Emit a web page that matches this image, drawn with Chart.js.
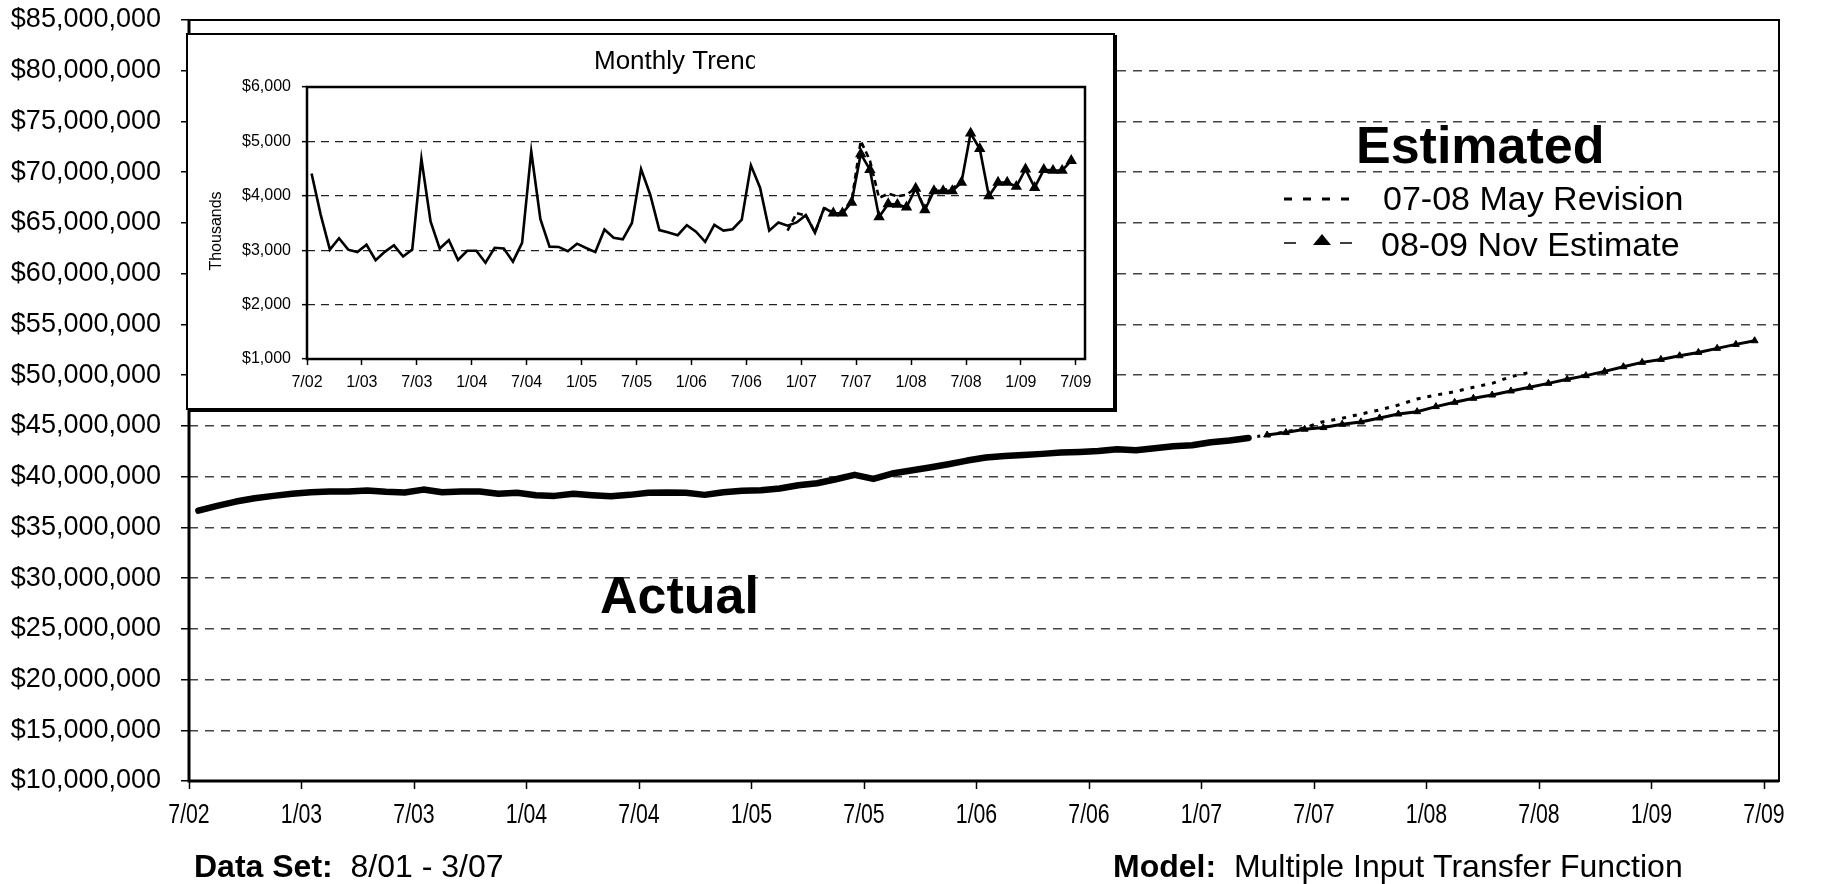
<!DOCTYPE html>
<html lang="en">
<head>
<meta charset="UTF-8">
<title>General Fund Revenue - 12 Month Total</title>
<script src="https://cdn.jsdelivr.net/npm/chart.js@4"></script>
<style>
  body {
    margin: 0;
    width: 1822px;
    height: 884px;
    overflow: hidden;
    background: #fff;
    position: relative;
  }
  #mainChart { position: absolute; left: 0; top: 0; }
  .inset {
    position: absolute;
    left: 186px;
    top: 33px;
    width: 929px;
    height: 377px;
    box-sizing: border-box;
    border: 2px solid #000;
    box-shadow: 2px 2px 0 #000;
    background: #fff;
  }
  .inset canvas { display: block; }
</style>
</head>
<body>
<canvas id="mainChart" width="1822" height="884"></canvas>
<div class="inset"><canvas id="insetChart" width="925" height="373"></canvas></div>

<script>
// month 0 = July 2002; each value is plotted in the middle of its month
const monthTicks = [0, 6, 12, 18, 24, 30, 36, 42, 48, 54, 60, 66, 72, 78, 84];
const tickLabels = ['7/02', '1/03', '7/03', '1/04', '7/04', '1/05', '7/05', '1/06',
                    '7/06', '1/07', '7/07', '1/08', '7/08', '1/09', '7/09'];

// 12-month running totals, $ millions (7/02 - 3/07)
const actualTotals = [
  36.65, 37.12, 37.54, 37.87, 38.10, 38.30, 38.46, 38.53, 38.53, 38.63, 38.50, 38.43,
  38.72, 38.46, 38.53, 38.53, 38.30, 38.40, 38.17, 38.10, 38.30, 38.17, 38.07, 38.20,
  38.40, 38.43, 38.40, 38.20, 38.46, 38.60, 38.66, 38.82, 39.15, 39.35, 39.74, 40.17,
  39.77, 40.30, 40.60, 40.90, 41.22, 41.58, 41.88, 42.04, 42.14, 42.24, 42.37, 42.43,
  42.53, 42.70, 42.60, 42.80, 42.99, 43.09, 43.38, 43.55, 43.81
];
// 07-08 May Revision, 4/07 - 6/08
const mayStart = 57;
const mayTotals = [
  44.10, 44.40, 44.80, 45.42, 45.75, 46.17, 46.57, 47.06, 47.65, 48.04, 48.37, 48.80,
  49.19, 49.85, 50.27
];
// 08-09 Nov Estimate, joined to 3/07 then 4/07 - 6/09
const novStart = 56;
const novTotals = [
  43.81, 44.10, 44.34, 44.67, 44.83, 45.16, 45.39, 45.78, 46.17, 46.40, 46.90, 47.32,
  47.72, 48.04, 48.44, 48.80, 49.19, 49.59, 49.95, 50.37, 50.83, 51.26, 51.55, 51.91,
  52.24, 52.64, 53.03, 53.39
];

// monthly amounts, $ thousands
const actualMonthly = [
  4410, 3650, 3010, 3220, 3010, 2965, 3100, 2815, 2970, 3090, 2885, 3010,
  4680, 3530, 3030, 3185, 2820, 2990, 2990, 2770, 3045, 3030, 2790, 3135,
  4815, 3570, 3065, 3060, 2980, 3120, 3040, 2965, 3380, 3230, 3200, 3500,
  4490, 4020, 3370, 3325, 3275, 3460, 3340, 3155, 3465, 3360, 3385, 3560,
  4560, 4150, 3360, 3510, 3450, 3510, 3645, 3320, 3780
];
const mayMonthlyStart = 52;
const mayMonthly = [
  3360, 3680, 3640, 3330, 3770, 3700, 3700, 3900, 5010, 4650, 3960, 4040,
  3990, 4020, 4140, 3760, 4120, 4110, 4130, 4280
];
const novMonthly = [
  3780, 3680, 3680, 3880, 4770, 4480, 3610, 3850, 3840, 3790, 4135, 3740,
  4090, 4090, 4090, 4245, 5150, 4865, 3995, 4245, 4245, 4170, 4490, 4150,
  4480, 4465, 4465, 4645
];

const FONT = '"Liberation Sans", Arial, Helvetica, sans-serif';
Chart.defaults.font.family = FONT;
Chart.defaults.color = '#000';

const pts = (vals, start) => vals.map((v, i) => ({ x: start + i + 0.5, y: v }));
const hideFirst = c => (c.dataIndex === 0 ? 0 : 4);
const monthAxisTicks = s => { s.ticks = monthTicks.map(v => ({ value: v })); };
const noEndPadding = s => { s.paddingTop = 0; s.paddingBottom = 0; };

// month labels of the main chart are set in a narrow face
const drawMonthLabels = (chart, size, squeeze, y) => {
  const { ctx, scales: { x } } = chart;
  ctx.save();
  ctx.fillStyle = '#000';
  ctx.font = size + 'px ' + FONT;
  ctx.textAlign = 'center';
  ctx.textBaseline = 'middle';
  monthTicks.forEach((m, i) => {
    ctx.save();
    ctx.translate(x.getPixelForValue(m), y);
    ctx.scale(squeeze, 1);
    ctx.fillText(tickLabels[i], 0, 0);
    ctx.restore();
  });
  ctx.restore();
};

// frame, big captions, legend and footer of the main chart
const mainDecor = {
  id: 'mainDecor',
  afterDraw(chart) {
    const { ctx, chartArea: a } = chart;
    ctx.save();
    ctx.strokeStyle = '#000';
    ctx.lineWidth = 2;
    ctx.strokeRect(a.left, a.top, a.right - a.left, a.bottom - a.top);
    ctx.lineWidth = 3;
    ctx.beginPath();
    ctx.moveTo(a.left, a.top);
    ctx.lineTo(a.left, a.bottom);
    ctx.lineTo(a.right, a.bottom);
    ctx.stroke();

    drawMonthLabels(chart, 28, 0.76, a.bottom + 34);

    ctx.fillStyle = '#000';
    ctx.textBaseline = 'alphabetic';
    ctx.textAlign = 'left';
    ctx.font = 'bold 52px ' + FONT;
    ctx.fillText('Actual', 600, 613);
    ctx.fillText('Estimated', 1356, 163);

    ctx.font = '34px ' + FONT;
    ctx.fillText('07-08 May Revision', 1383, 210);
    ctx.fillText('08-09 Nov Estimate', 1381, 256);

    // legend keys
    ctx.lineWidth = 3;
    ctx.setLineDash([8, 11]);
    ctx.beginPath();
    ctx.moveTo(1284, 199);
    ctx.lineTo(1354, 199);
    ctx.stroke();
    ctx.setLineDash([]);
    ctx.lineWidth = 1.5;
    ctx.beginPath();
    ctx.moveTo(1284, 243); ctx.lineTo(1296, 243);
    ctx.moveTo(1340, 243); ctx.lineTo(1352, 243);
    ctx.stroke();
    ctx.beginPath();
    ctx.moveTo(1313, 245);
    ctx.lineTo(1322, 234);
    ctx.lineTo(1331, 245);
    ctx.closePath();
    ctx.fill();

    // footer
    const footer = (x, bold, rest) => {
      ctx.font = 'bold 32px ' + FONT;
      ctx.fillText(bold, x, 877);
      const w = ctx.measureText(bold + '  ').width;
      ctx.font = '32px ' + FONT;
      ctx.fillText(rest, x + w, 877);
    };
    footer(194, 'Data Set:', '8/01 - 3/07');
    footer(1113, 'Model:', 'Multiple Input Transfer Function');
    ctx.restore();
  }
};

new Chart(document.getElementById('mainChart'), {
  type: 'line',
  data: {
    datasets: [
      { label: 'Actual', data: pts(actualTotals, 0), borderColor: '#000', borderWidth: 6.5,
        borderCapStyle: 'round', borderJoinStyle: 'round', pointRadius: 0 },
      { label: '07-08 May Revision', data: pts(mayTotals, mayStart), borderColor: '#000',
        borderWidth: 3, borderDash: [4, 7], pointRadius: 0 },
      { label: '08-09 Nov Estimate', data: pts(novTotals, novStart), borderColor: '#000',
        borderWidth: 3, pointStyle: 'triangle', pointRadius: hideFirst,
        pointBackgroundColor: '#000', pointBorderColor: '#000', pointBorderWidth: 1,
        segment: { borderDash: c => (c.p0DataIndex === 0 ? [3, 6] : undefined) } }
    ]
  },
  options: {
    responsive: false,
    animation: false,
    devicePixelRatio: 1,
    layout: { padding: { left: 0, top: 20, right: 43, bottom: 0 } },
    plugins: { legend: { display: false }, tooltip: { enabled: false } },
    scales: {
      x: {
        type: 'linear', min: 0, max: 84.8,
        afterBuildTicks: monthAxisTicks,
        afterFit: s => { s.height = 103; },
        grid: { drawOnChartArea: false, tickLength: 8, tickColor: '#000', tickWidth: 1.5 },
        border: { display: false },
        ticks: { display: false }
      },
      y: {
        min: 10, max: 85,
        afterFit: s => { s.width = 189; noEndPadding(s); },
        grid: { color: '#444', lineWidth: 1.5, tickLength: 8, tickColor: '#000', tickWidth: 1.5 },
        border: { display: false, dash: [9, 7] },
        ticks: { stepSize: 5, font: { size: 27 }, padding: 20,
                 callback: v => '$' + (v * 1e6).toLocaleString('en-US') }
      }
    }
  },
  plugins: [mainDecor]
});

// title, axis caption and plot frame of the monthly panel
const insetDecor = {
  id: 'insetDecor',
  afterDraw(chart) {
    const { ctx, chartArea: a } = chart;
    ctx.save();
    ctx.strokeStyle = '#000';
    ctx.lineWidth = 2.5;
    ctx.strokeRect(a.left, a.top, a.right - a.left, a.bottom - a.top);

    // the title box is narrower than its text, so the last letter is cut
    ctx.fillStyle = '#000';
    ctx.save();
    ctx.beginPath();
    ctx.rect(0, 0, 567, 60);
    ctx.clip();
    ctx.font = '26px ' + FONT;
    ctx.textAlign = 'left';
    ctx.textBaseline = 'middle';
    ctx.fillText('Monthly Trend', 406, 27);
    ctx.restore();

    ctx.translate(29, 196);
    ctx.rotate(-Math.PI / 2);
    ctx.font = '16px ' + FONT;
    ctx.textAlign = 'center';
    ctx.textBaseline = 'middle';
    ctx.fillText('Thousands', 0, 0);
    ctx.restore();
  }
};

new Chart(document.getElementById('insetChart'), {
  type: 'line',
  data: {
    datasets: [
      { data: pts(actualMonthly, 0), borderColor: '#000', borderWidth: 2.6, pointRadius: 0 },
      { data: pts(mayMonthly, mayMonthlyStart), borderColor: '#000', borderWidth: 2.6,
        borderDash: [6, 4], pointRadius: 0 },
      { data: pts(novMonthly, novStart), borderColor: '#000', borderWidth: 2.6,
        pointStyle: 'triangle', pointRadius: hideFirst, pointBackgroundColor: '#000',
        pointBorderColor: '#000' }
    ]
  },
  options: {
    responsive: false,
    animation: false,
    devicePixelRatio: 1,
    layout: { padding: { left: 0, top: 52, right: 28, bottom: 0 } },
    plugins: { legend: { display: false }, tooltip: { enabled: false } },
    scales: {
      x: {
        type: 'linear', min: 0, max: 85,
        afterBuildTicks: monthAxisTicks,
        afterFit: s => { s.height = 49; },
        grid: { drawOnChartArea: false, tickLength: 6, tickColor: '#000', tickWidth: 1.5 },
        border: { display: false },
        ticks: { callback: (v, i) => tickLabels[i], font: { size: 16 }, padding: 8,
                 maxRotation: 0, autoSkip: false }
      },
      y: {
        min: 1000, max: 6000,
        afterFit: s => { s.width = 119; noEndPadding(s); },
        grid: { color: '#222', lineWidth: 1.3, tickLength: 5, tickColor: '#000', tickWidth: 1.5 },
        border: { display: false, dash: [8, 6] },
        ticks: { stepSize: 1000, font: { size: 16 }, padding: 11,
                 callback: v => '$' + v.toLocaleString('en-US') }
      }
    }
  },
  plugins: [insetDecor]
});
</script>
</body>
</html>
